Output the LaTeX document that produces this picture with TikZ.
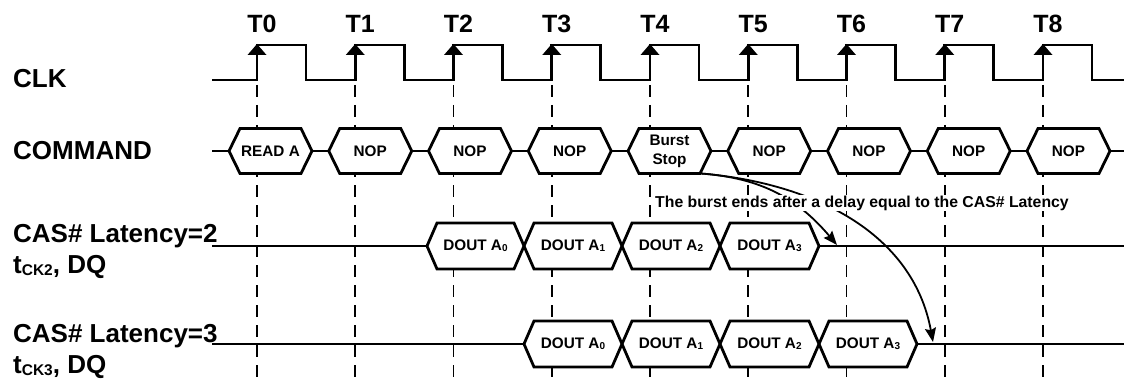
\documentclass[tikz,border=0pt]{standalone}
\usepackage{fontspec}
\setmainfont{Liberation Sans}
\usetikzlibrary{arrows.meta}
\begin{document}
\begin{tikzpicture}[x=1pt,y=-1pt,
  sig/.style={line width=2.8pt},
  hexa/.style={line width=2.8pt, fill=white, line join=miter},
  gridline/.style={line width=1.8pt, dash pattern=on 12pt off 8pt},
  lbl/.style={font=\fontsize{26}{30}\selectfont\bfseries, anchor=base west, inner sep=0pt},
  tlbl/.style={font=\fontsize{25}{30}\selectfont\bfseries, anchor=base, inner sep=0pt},
  small/.style={font=\fontsize{15.3}{19}\selectfont\bfseries, align=center, inner sep=0pt},
  note/.style={font=\fontsize{15.8}{19}\selectfont\bfseries, fill=white, inner sep=1pt, anchor=base west},
  delay/.style={line width=1.8pt, -{Stealth[length=14pt,width=11pt,inset=2pt]}}
]
\useasboundingbox (0,0) rectangle (1124,385);

% dashed clock-edge guides
\foreach \i in {0,...,8} {
  \pgfmathsetmacro\tx{257+98.25*\i}
  \draw[gridline] (\tx,85) -- (\tx,385);
}

% clock
\draw[sig] (212,80) \foreach \i in {0,...,8}{
  -- ({257+98.25*\i},80) -- ({257+98.25*\i},45) -- ({306+98.25*\i},45) -- ({306+98.25*\i},80) } -- (1124,80);
\foreach \i in {0,...,8} {
  \pgfmathsetmacro\tx{257+98.25*\i}
  \fill (\tx-9.5,55) -- (\tx+9.5,55) -- (\tx,44) -- cycle;
  \node[tlbl] (t\i) at ({262+98.25*\i},33) {T\i};
}

% row labels
\node[lbl] (clk) at (13,88) {CLK};
\node[lbl] (cmdl) at (13,160) {COMMAND};
\node[lbl] (cl2) at (13,242) {CAS\# Latency=2};
\node[lbl] (tck2) at (13,273) {t\raisebox{-2pt}{\fontsize{15.5}{16}\selectfont CK2}, DQ};
\node[lbl] (cl3) at (13,342) {CAS\# Latency=3};
\node[lbl] (tck3) at (13,373) {t\raisebox{-2pt}{\fontsize{15.5}{16}\selectfont CK3}, DQ};

% command row
\draw[sig] (212,151) -- (1124,151);
\foreach \txt [count=\n from 0] in {READ A,NOP,NOP,NOP,{Burst\\Stop},NOP,NOP,NOP,NOP} {
  \pgfmathsetmacro\L{229+99.75*\n}
  \pgfmathsetmacro\R{\L+83}
  \draw[hexa] (\L,151) -- (\L+11,128.5) -- (\R-11,128.5) -- (\R,151) -- (\R-11,173.5) -- (\L+11,173.5) -- cycle;
  \node[small] (cmd\n) at ({(\L+\R)/2},151) {\txt};
}

% CAS latency 2 row
\draw[sig] (212,246) -- (1124,246);
\foreach \L/\R [count=\n from 0] in {427/524,524/622,622/720,720/819} {
  \pgfmathtruncatemacro\k{\n-1}
  \draw[hexa] (\L,246) -- (\L+10,223) -- (\R-10,223) -- (\R,246) -- (\R-10,269) -- (\L+10,269) -- cycle;
  \node[small] (da\n) at ({(\L+\R)/2},246) {DOUT A\raisebox{-1pt}{\fontsize{10}{10}\selectfont\n}};
}

% CAS latency 3 row
\draw[sig] (212,344) -- (1124,344);
\foreach \L/\R [count=\n from 0] in {524/622,622/720,720/819,819/917} {
  \draw[hexa] (\L,344) -- (\L+10,321) -- (\R-10,321) -- (\R,344) -- (\R-10,367) -- (\L+10,367) -- cycle;
  \node[small] (db\n) at ({(\L+\R)/2},344) {DOUT A\raisebox{-1pt}{\fontsize{10}{10}\selectfont\n}};
}

% burst-stop delay arrows
\coordinate (bs) at (701,173.5);
\coordinate (e2) at (837,245);
\coordinate (e3) at (933,342);
\draw[delay] (bs) .. controls (762,178) and (798,199) .. (e2);
\draw[delay] (bs) .. controls (814,183) and (913,233) .. (e3);
\node[note] (note) at (654,207) {The burst ends after a delay equal to the CAS\# Latency};
\end{tikzpicture}
\end{document}
